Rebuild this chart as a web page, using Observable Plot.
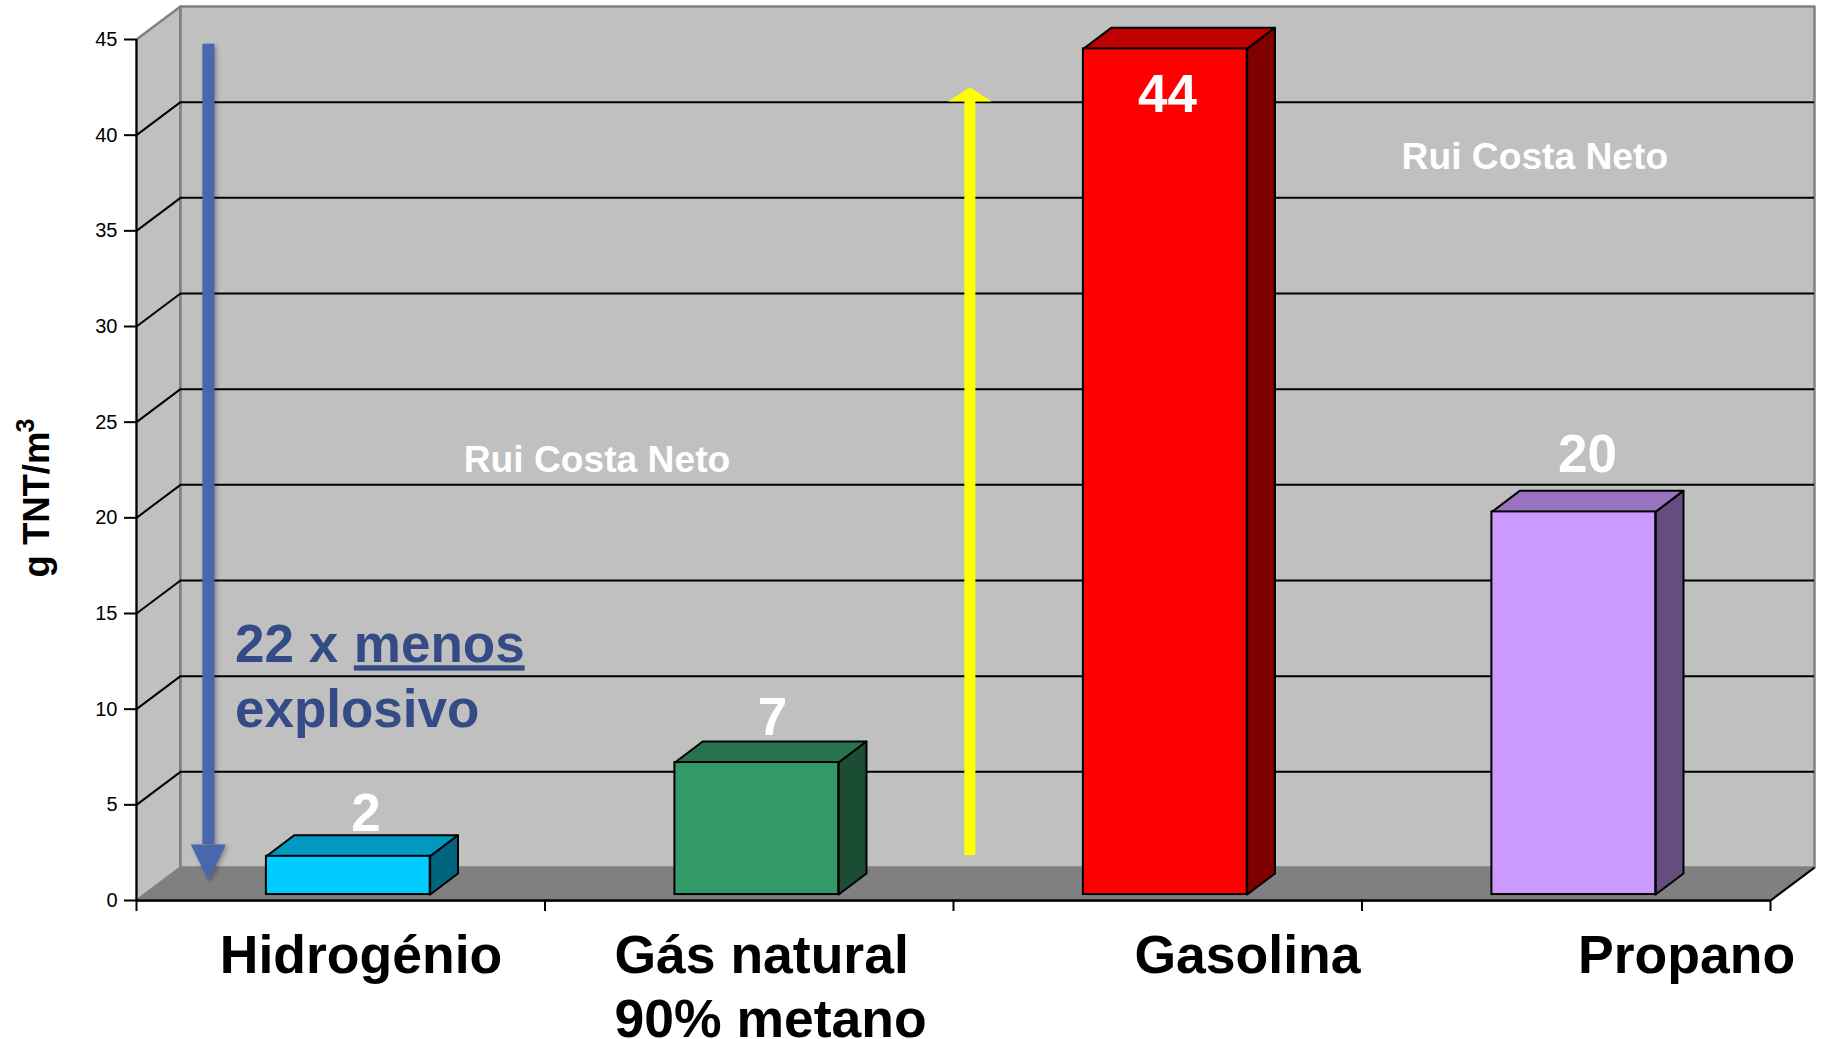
<!DOCTYPE html>
<html>
<head>
<meta charset="utf-8">
<script src="https://cdn.jsdelivr.net/npm/d3@7"></script>
<script src="https://cdn.jsdelivr.net/npm/@observablehq/plot@0.6"></script>
<style>
html,body{margin:0;padding:0;background:#fff}
svg{display:block}
.menos text{text-decoration:underline}
.shadow{filter:drop-shadow(2px 2px 2px rgba(0,0,0,.3))}
</style>
</head>
<body>
<div id="chart"></div>
<script>
// Data
const categories = ["Hidrogénio", "Gás natural\n90% metano", "Gasolina", "Propano"];
const values = [2, 6.9, 44.2, 20];
const valueLabels = ["2", "7", "44", "20"];
const frontColors = ["#00CCFF", "#339966", "#FF0000", "#CC99FF"];
const topColors = ["#0099BF", "#267350", "#BF0000", "#9973BF"];
const sideColors = ["#006680", "#1A4D33", "#800000", "#664D80"];
const yTicks = [0, 5, 10, 15, 20, 25, 30, 35, 40, 45];
const xTicks = [0, 1, 2, 3, 4];
const categoryLabelX = [0.204, 1.170, 2.443, 3.529];
const valueLabelX = [0.562, 1.557, 2.524, 3.552];
const valueLabelY = [3.65, 8.64, 41.19, 22.38];

// pseudo-3D depth, in data units
const wallDX = 0.1077, wallDY = 1.725;
const barDX = 0.068, barDY = 1.1;
const barStart = 0.318, barEnd = 0.719, barBase = 0.31;

const sans = "Liberation Sans, Arial, sans-serif";
const poly = (id, color, pts) => pts.map(([x, y]) => ({id, color, x, y}));

const room = [
  ...poly("floor", "#808080", [[0,0],[4,0],[4+wallDX,wallDY],[wallDX,wallDY],[0,0]]),
  ...poly("side", "#C0C0C0", [[0,0],[0,45],[wallDX,45+wallDY],[wallDX,wallDY],[0,0]]),
  ...poly("back", "#C0C0C0", [[wallDX,wallDY],[wallDX,45+wallDY],[4+wallDX,45+wallDY],[4+wallDX,wallDY],[wallDX,wallDY]])
];

const bars = categories.map((c, i) => ({
  c, i, v: values[i], x1: i + barStart, x2: i + barEnd, y1: barBase, y2: barBase + values[i],
  fill: frontColors[i]
}));
const barFaces = bars.flatMap(b => [
  ...poly("top" + b.i, topColors[b.i], [[b.x1,b.y2],[b.x1+barDX,b.y2+barDY],[b.x2+barDX,b.y2+barDY],[b.x2,b.y2],[b.x1,b.y2]]),
  ...poly("side" + b.i, sideColors[b.i], [[b.x2,b.y1],[b.x2,b.y2],[b.x2+barDX,b.y2+barDY],[b.x2+barDX,b.y1+barDY],[b.x2,b.y1]])
]);

const blueX = 0.176, blueTop = 44.75, blueBase = 2.93, blueTip = 1.05, blueHead = 0.043;
const yellowX = 2.04, yellowBottom = 2.35, yellowBase = 41.76, yellowApex = 42.5, yellowHead = 0.053;

const plot = Plot.plot({
  width: 1826, height: 1039,
  marginLeft: 136, marginRight: 56, marginTop: 39, marginBottom: 139,
  style: {fontFamily: sans, background: "#fff", overflow: "visible"},
  x: {type: "linear", domain: [0, 4]},
  y: {type: "linear", domain: [0, 45]},
  marks: [
    // room
    Plot.line(room, {x: "x", y: "y", z: "id", fill: "color", stroke: "#808080", strokeWidth: 2.5}),
    // gridlines
    Plot.ruleY(yTicks.slice(1, -1), {y: d => d + wallDY, x1: wallDX, x2: 4 + wallDX, stroke: "#000", strokeWidth: 2}),
    Plot.link(yTicks.slice(1, -1), {x1: 0, y1: d => d, x2: wallDX, y2: d => d + wallDY, stroke: "#000", strokeWidth: 2}),
    // front edges
    Plot.link([0], {x1: 4, y1: 0, x2: 4 + wallDX, y2: wallDY, stroke: "#000", strokeWidth: 2}),
    Plot.ruleX([0], {y1: 0, y2: 45, stroke: "#000", strokeWidth: 2}),
    Plot.ruleY([0], {x1: 0, x2: 4, stroke: "#000", strokeWidth: 2.5}),
    // axes
    Plot.axisY({ticks: yTicks, tickSize: 12, tickPadding: 7, fontSize: 20, strokeWidth: 2, stroke: "#000", fill: "#000", label: null}),
    Plot.axisX({ticks: xTicks, tickSize: 11, strokeWidth: 2, stroke: "#000", fill: "none", label: null}),
    // bars
    Plot.line(barFaces, {x: "x", y: "y", z: "id", fill: "color", stroke: "#000", strokeWidth: 2, strokeLinejoin: "round"}),
    Plot.rect(bars, {x1: "x1", x2: "x2", y1: "y1", y2: "y2", fill: "fill", stroke: "#000", strokeWidth: 2}),
    // arrows
    Plot.ruleX([blueX], {y1: blueTop, y2: blueBase, stroke: "#4A66AC", strokeWidth: 12, className: "shadow"}),
    Plot.line([[blueX-blueHead,blueBase],[blueX+blueHead,blueBase],[blueX,blueTip]], {x: "0", y: "1", fill: "#4A66AC", stroke: "none", className: "shadow"}),
    Plot.ruleX([yellowX], {y1: yellowBottom, y2: yellowBase, stroke: "#FFFF00", strokeWidth: 11}),
    Plot.line([[yellowX-yellowHead,yellowBase],[yellowX+yellowHead,yellowBase],[yellowX,yellowApex]], {x: "0", y: "1", fill: "#FFFF00", stroke: "none"}),
    // value labels
    Plot.text(valueLabels, {x: (d, i) => valueLabelX[i], y: (d, i) => valueLabelY[i], text: d => d, fill: "#fff", fontSize: 53, fontWeight: "bold", textAnchor: "middle", lineAnchor: "bottom"}),
    // watermarks
    Plot.text(["Rui Costa Neto"], {x: 0.801, y: 22.42, text: d => d, fill: "#fff", fontSize: 37.2, fontWeight: "bold", textAnchor: "start", lineAnchor: "bottom"}),
    Plot.text(["Rui Costa Neto"], {x: 3.097, y: 38.22, text: d => d, fill: "#fff", fontSize: 37.2, fontWeight: "bold", textAnchor: "start", lineAnchor: "bottom"}),
    // annotation
    Plot.text(["22 x "], {x: 0.241, y: 12.45, text: d => d, fill: "#354B85", fontSize: 53, fontWeight: "bold", textAnchor: "start", lineAnchor: "bottom"}),
    Plot.text(["menos"], {x: 0.532, y: 12.45, text: d => d, fill: "#354B85", fontSize: 53, fontWeight: "bold", textAnchor: "start", lineAnchor: "bottom", className: "menos"}),
    Plot.text(["explosivo"], {x: 0.241, y: 9.06, text: d => d, fill: "#354B85", fontSize: 53, fontWeight: "bold", textAnchor: "start", lineAnchor: "bottom"}),
    // category labels
    Plot.text(categories, {x: (d, i) => categoryLabelX[i], y: -1.41, text: d => d, fill: "#000", fontSize: 53.5, fontWeight: "bold", textAnchor: "start", lineAnchor: "top", lineHeight: 1.2}),
    // y title
    Plot.text(["g TNT/m"], {x: -0.213, y: 16.88, text: d => d, fill: "#000", fontSize: 36.5, fontWeight: "bold", rotate: -90, textAnchor: "start", lineAnchor: "bottom"}),
    Plot.text(["3"], {x: -0.252, y: 24.46, text: d => d, fill: "#000", fontSize: 25, fontWeight: "bold", rotate: -90, textAnchor: "start", lineAnchor: "bottom"})
  ]
});
document.getElementById("chart").appendChild(plot);
</script>
</body>
</html>
